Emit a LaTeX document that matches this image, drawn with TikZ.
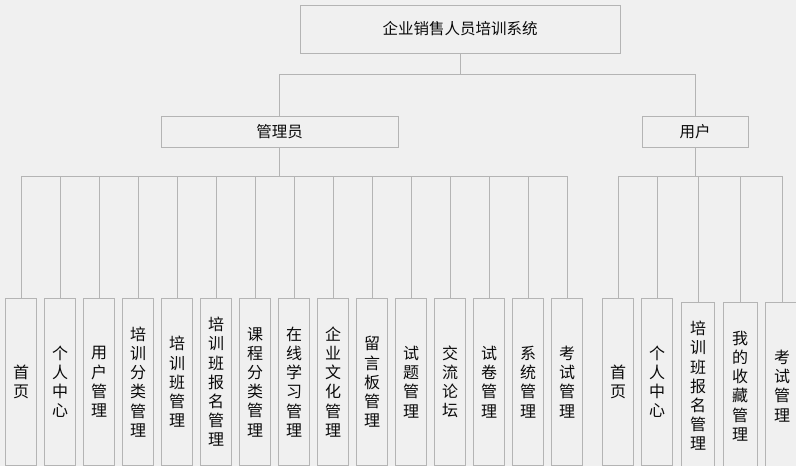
\documentclass[tikz,border=0pt]{standalone}
\usepackage{fontspec}
\setmainfont{Noto Sans CJK SC}
\definecolor{bg}{HTML}{F0F0F0}
\definecolor{ln}{HTML}{B4B4B4}
\definecolor{tx}{HTML}{0A0A0A}
\begin{document}
\begin{tikzpicture}[x=1pt,y=-1pt,
  box/.style={draw=ln, line width=0.9pt, fill=bg, inner sep=0pt, text=tx,
    font=\fontsize{15.5}{19}\selectfont},
  leaf/.style={box, minimum width=31pt, minimum height=167pt, anchor=north, align=center,
    font=\fontsize{16}{19.2}\selectfont},
  wire/.style={draw=ln, line width=0.9pt}]
\useasboundingbox (0,0) rectangle (796,466);
\fill[bg] (0,0) rectangle (796,466);
\clip (0,0) rectangle (796,466);

% upper levels
\node[box, minimum width=320pt, minimum height=48pt] (top) at (460,29) {企业销售人员培训系统};
\node[box, minimum width=237pt, minimum height=31pt] (adm) at (279.5,131.5) {管理员};
\node[box, minimum width=106pt, minimum height=31pt] (usr) at (695,131.5) {用户};

% admin leaves
\foreach \t [count=\i] in {{首\\页},{个\\人\\中\\心},{用\\户\\管\\理},{培\\训\\分\\类\\管\\理},
  {培\\训\\班\\管\\理},{培\\训\\班\\报\\名\\管\\理},{课\\程\\分\\类\\管\\理},{在\\线\\学\\习\\管\\理},
  {企\\业\\文\\化\\管\\理},{留\\言\\板\\管\\理},{试\\题\\管\\理},{交\\流\\论\\坛},
  {试\\卷\\管\\理},{系\\统\\管\\理},{考\\试\\管\\理}}
  \node[leaf] (a\i) at ({21+39*(\i-1)},298) {\t};

% user leaves
\node[leaf] (u1) at (618,298) {首\\页};
\node[leaf] (u2) at (657,298) {个\\人\\中\\心};
\node[leaf, minimum width=33pt] (u3) at (698,302) {培\\训\\班\\报\\名\\管\\理};
\node[leaf, minimum width=34pt] (u4) at (740,302) {我\\的\\收\\藏\\管\\理};
\node[leaf, minimum width=34pt] (u5) at (782,302) {考\\试\\管\\理};

% connectors
\coordinate (j0) at (460,74);
\draw[wire] (top.south) -- (j0);
\draw[wire] (j0) -| (adm.north);
\draw[wire] (j0) -| (usr.north);
\path (adm.south) ++(0,29) coordinate (abar);
\path (usr.south) ++(0,29) coordinate (ubar);
\draw[wire] (adm.south) -- (abar);
\draw[wire] (usr.south) -- (ubar);
\foreach \i in {1,...,15} \draw[wire] (abar) -| (a\i.north);
\foreach \i in {1,...,5} \draw[wire] (ubar) -| (u\i.north);
\end{tikzpicture}
\end{document}
